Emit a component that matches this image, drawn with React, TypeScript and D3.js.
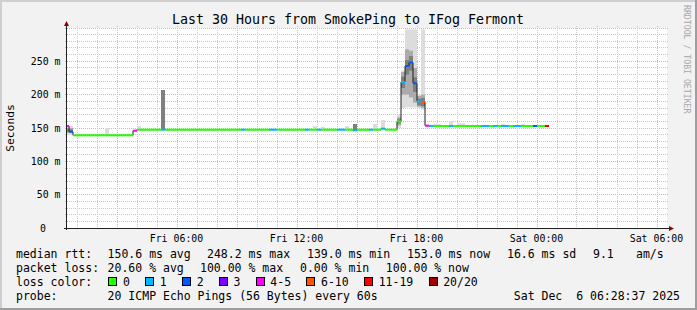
import React from 'react';
import * as d3 from 'd3';

const W = 697, H = 310;
const X0 = 67, X1 = 667, Y0 = 228, Y1 = 28;
const MONO = '"DejaVu Sans Mono", monospace';

const titleText = 'Last 30 Hours from SmokePing to IFog Fermont';
const dayZero = new Date(2025, 11, 5, 0, 0); // Fri 00:00
const startHour = 0.5;
const endHour = 30.5;
const yMax = 300;

// median rtt segments: start hour (since Fri 00:00), median ms, loss class index
const segStart = [0.5, 0.6, 0.8, 3.8, 4.0, 5.2, 5.4, 9.2, 9.4, 10.6, 11.0, 12.4, 12.6, 13.0, 13.2, 14.0, 14.4, 14.8, 15.0, 15.6, 15.8, 16.2, 16.4, 17.0, 17.2, 17.4, 17.6, 17.8, 18.0, 18.2, 18.4, 18.6, 18.8, 19.6, 19.8, 21.2, 21.6, 21.8, 22.0, 22.2, 22.6, 22.8, 23.2, 23.8, 24.0, 24.4];
const segEnd = 24.6;
const segMedian = [153, 144.5, 139.0, 146, 147.5, 147.5, 147.5, 147.5, 147.5, 147.5, 147.5, 147.5, 147.5, 147.5, 147.5, 147.5, 147.5, 146.5, 147.5, 147.5, 147.5, 149, 147.5, 160, 219, 243, 248.2, 217, 190, 189, 153.5, 153, 153, 153, 153, 153, 153, 153, 153, 153, 153, 153, 153, 153, 153, 153];
const segLoss = [4, 2, 0, 4, 0, 1, 0, 1, 0, 1, 0, 1, 0, 1, 0, 1, 0, 1, 0, 1, 0, 1, 0, 0, 1, 2, 2, 2, 1, 5, 4, 1, 0, 1, 0, 1, 0, 1, 0, 1, 0, 1, 0, 2, 0, 6];

// smoke (ping spread) blocks: outer range, middle range, inner (dense) range
const smokeStart = [0.5, 2.4, 4.0, 5.2, 12.8, 13.2, 14.4, 14.8, 15.8, 16.2, 17.0, 17.2, 17.4, 17.6, 17.8, 18.0, 18.2, 18.8, 19.6, 20.0, 22.2, 23.2];
const smokeEnd = [0.8, 2.6, 4.2, 5.4, 13.0, 13.4, 14.6, 15.0, 16.0, 16.4, 17.2, 17.4, 17.6, 17.8, 18.0, 18.2, 18.4, 19.2, 19.8, 20.4, 22.4, 23.4];
const smokeLo = [140, 139, 147, 147.5, 147, 147, 147, 146, 147, 149, 150, 180, 181, 181, 181, 180, 177, 153, 153, 153, 153, 153];
const smokeQ1 = [143, 139, 147, 147.5, 147, 147, 147, 146, 147, 149, 154, 200, 200, 196, 188, 182, 180, 153, 153, 153, 153, 153];
const smokeQ3 = [150, 139, 147, 207, 147, 147, 147, 156, 147, 149, 166, 234, 268, 266, 240, 198, 200, 153, 153, 153, 153, 153];
const smokeHi = [153, 150, 153, 207, 153, 152, 153, 156, 156, 162, 170, 236, 298, 298, 298, 200, 298, 156, 160, 157, 156, 156];
const smokeI1 = [144, 139, 147, 147.5, 147, 147, 147, 146, 147, 149, 157, 210, 230, 236, 204, 184, 183, 153, 153, 153, 153, 153];
const smokeI2 = [148, 139, 147, 207, 147, 147, 147, 156, 147, 149, 163, 227, 252, 258, 226, 194, 195, 153, 153, 153, 153, 153];

const lossLabels = ['0', '1', '2', '3', '4-5', '6-10', '11-19', '20/20'];
const lossColors = ['#26ff00', '#00b8ff', '#0059ff', '#7e00ff', '#ff00ff', '#ff5500', '#ff0000', '#a10000'];

const rttLabels = ['150.6 ms avg', '248.2 ms max', '139.0 ms min', '153.0 ms now', '16.6 ms sd', '9.1', 'am/s'];
const rttX = [107.6, 207, 307, 407, 507, 593, 636];
const lossStatLabels = ['20.60 % avg', '100.00 % max', '0.00 % min', '100.00 % now'];
const lossStatX = [107.6, 200, 300, 385.8];
const probeText = '20 ICMP Echo Pings (56 Bytes) every 60s';
const stampText = 'Sat Dec\u00a0\u00a06 06:28:37 2025';

const hToDate = (h: number) => new Date(dayZero.getTime() + h * 3600e3);

export default function App() {
  const x = d3.scaleTime().domain([hToDate(startHour), hToDate(endHour)]).range([X0, X1]);
  const y = d3.scaleLinear().domain([0, yMax]).range([Y0, Y1]);
  const xh = (h: number) => x(hToDate(h));

  const hours = d3.timeHour.range(hToDate(startHour), hToDate(endHour));
  const fmt = d3.timeFormat('%a %H:%M');
  const yMinor = d3.range(0, yMax + 1, 10);
  const yLabels = d3.range(0, 251, 50);

  const pts: [number, number][] = segStart.map((s, i) => [xh(s), y(segMedian[i])]);
  pts.push([xh(segEnd), y(segMedian[segMedian.length - 1])]);
  const stepLine = d3.line().curve(d3.curveStepAfter)(pts) || '';

  const crisp = (v: number) => Math.floor(v) + 0.5;

  // legend box layout
  const charW = 6.93;
  const boxXs: number[] = [];
  let bx = 108.4;
  lossLabels.forEach((l) => {
    boxXs.push(bx);
    bx = bx + 14.6 + l.length * charW + 15.3;
  });

  const band = (key: string, s: number, e: number, lo: number, hi: number, fill: string) =>
    hi > lo ? <rect key={key} x={xh(s)} width={xh(e) - xh(s)} y={y(hi)} height={y(lo) - y(hi)} fill={fill} /> : null;

  return (
    <svg width={W} height={H} style={{ position: 'absolute', left: 0, top: 0, display: 'block' }}>
      <rect x={0} y={0} width={W} height={H} fill="#f2f2f2" />
      <rect x={0} y={0} width={W} height={2} fill="#cfcfcf" />
      <rect x={0} y={0} width={2} height={H} fill="#cfcfcf" />
      <rect x={0} y={H - 2} width={W} height={2} fill="#9e9e9e" />
      <rect x={W - 2} y={0} width={2} height={H} fill="#9e9e9e" />

      <text x={348} y={19.5} fontFamily={MONO} fontSize={13.3} textAnchor="middle" dominantBaseline="central" fill="#000">{titleText}</text>

      <text transform="translate(687,5) rotate(90)" fontFamily={MONO} fontSize={8.2} fill="#a8a8a8" dominantBaseline="central">RRDTOOL / TOBI OETIKER</text>

      <rect x={X0} y={Y1} width={X1 - X0} height={Y0 - Y1} fill="#ffffff" />

      {/* grid */}
      {yMinor.map((v) => (
        <line key={'hy' + v} x1={X0 - 2} x2={X1 + 2} y1={crisp(y(v))} y2={crisp(y(v))}
          stroke={v % 50 === 0 ? '#f0a8a8' : '#c8c8c8'} strokeDasharray="1,1" />
      ))}
      {hours.map((d) => (
        <line key={'vx' + d.getTime()} x1={crisp(x(d))} x2={crisp(x(d))} y1={Y1 - 2} y2={Y0 + 2}
          stroke={d.getHours() % 3 === 0 ? '#f0a8a8' : '#c8c8c8'} strokeDasharray="1,1" />
      ))}

      {/* smoke */}
      {smokeStart.map((s, i) => (
        <g key={'sm' + i}>
          {band('o' + i, s, smokeEnd[i], smokeLo[i], smokeHi[i], '#dcdcdc')}
          {band('m' + i, s, smokeEnd[i], smokeQ1[i], smokeQ3[i], '#ababab')}
          {band('i' + i, s, smokeEnd[i], smokeI1[i], smokeI2[i], '#7f7f7f')}
        </g>
      ))}

      {/* median */}
      <path d={stepLine} fill="none" stroke="#202020" strokeWidth={1} />
      {segStart.map((s, i) => {
        const e = i < segStart.length - 1 ? segStart[i + 1] : segEnd;
        return (
          <rect key={'md' + i} x={xh(s)} width={xh(e) - xh(s)} y={y(segMedian[i]) - 1} height={2} fill={lossColors[segLoss[i]]} />
        );
      })}

      {/* axes */}
      <line x1={66.5} x2={66.5} y1={Y0 + 2} y2={24} stroke="#202020" />
      <polygon points="64,26 69,26 66.5,21" fill="#8b0000" />
      <line x1={64} x2={669} y1={228.5} y2={228.5} stroke="#202020" />
      <polygon points="669,226 669,231 674,228.5" fill="#8b0000" />

      {yLabels.map((v) => (
        v === 0 ? (
          <text key={'yl' + v} x={43} y={y(v)} fontFamily={MONO} fontSize={9.9} textAnchor="middle" dominantBaseline="central" fill="#000">0</text>
        ) : (
          <text key={'yl' + v} x={60.5} y={y(v)} fontFamily={MONO} fontSize={9.9} textAnchor="end" dominantBaseline="central" fill="#000">{`${v} m`}</text>
        )
      ))}
      {hours.filter((d) => d.getHours() % 6 === 0).map((d) => (
        <text key={'xl' + d.getTime()} x={x(d) - 0.5} y={238} fontFamily={MONO} fontSize={9.9} textAnchor="middle" dominantBaseline="central" fill="#000">{fmt(d)}</text>
      ))}

      <text transform="translate(10,128) rotate(-90)" fontFamily={MONO} fontSize={11.3} textAnchor="middle" dominantBaseline="central" fill="#000">Seconds</text>

      {/* legend */}
      <g fontFamily={MONO} fontSize={11.5} fill="#000" dominantBaseline="central">
        <text x={16} y={254.3}>median rtt:</text>
        {rttLabels.map((t, i) => <text key={'r' + i} x={rttX[i]} y={254.3}>{t}</text>)}
        <text x={16} y={268.3}>packet loss:</text>
        {lossStatLabels.map((t, i) => <text key={'p' + i} x={lossStatX[i]} y={268.3}>{t}</text>)}
        <text x={16} y={282}>loss color:</text>
        {lossLabels.map((l, i) => (
          <g key={'lc' + i}>
            <rect x={Math.round(boxXs[i]) + 0.5} y={277.5} width={8} height={8} fill={lossColors[i]} stroke="#000" strokeWidth={1} />
            <text x={boxXs[i] + 14.6} y={282}>{l}</text>
          </g>
        ))}
        <text x={16} y={296}>probe:</text>
        <text x={107.6} y={296}>{probeText}</text>
        <text x={680} y={296} textAnchor="end">{stampText}</text>
      </g>
    </svg>
  );
}
